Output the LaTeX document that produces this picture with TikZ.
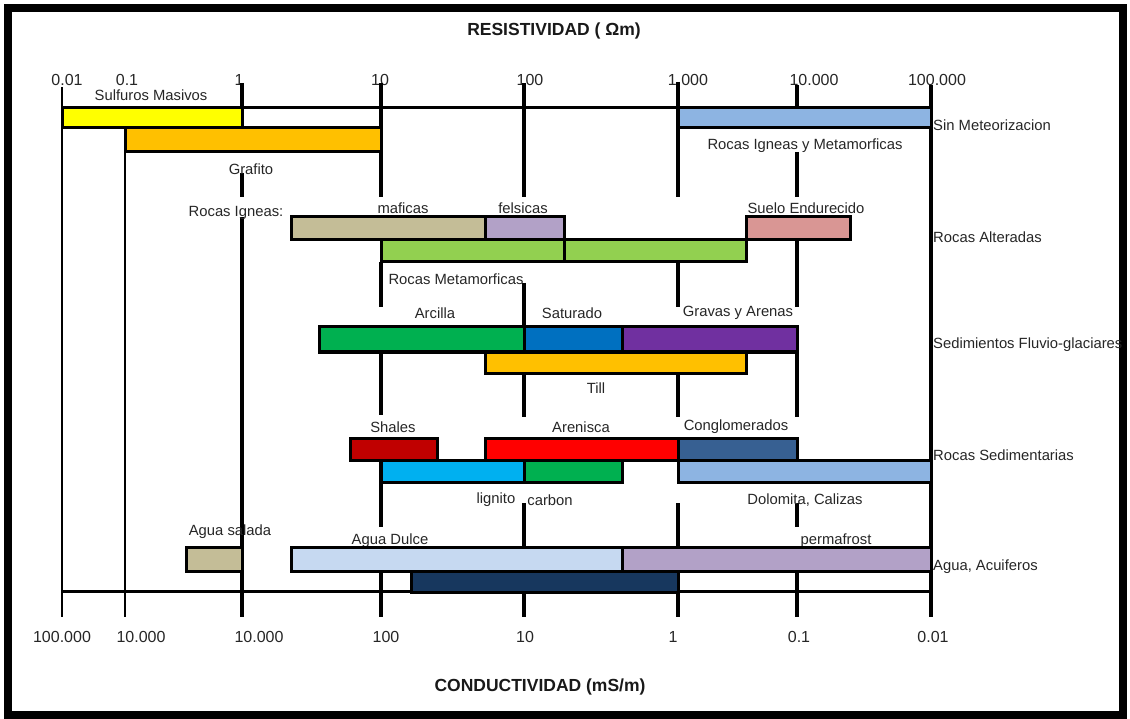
\documentclass[tikz,border=0pt]{standalone}
\usepackage{fontspec}
\setmainfont{Liberation Sans}
\usetikzlibrary{positioning}
\definecolor{yellowbar}{HTML}{FFFF00}
\definecolor{steelbar}{HTML}{8DB4E2}
\definecolor{orangebar}{HTML}{FFC000}
\definecolor{beigebar}{HTML}{C4BD97}
\definecolor{lilacbar}{HTML}{B2A1C7}
\definecolor{pinkbar}{HTML}{D99694}
\definecolor{limebar}{HTML}{92D050}
\definecolor{greenbar}{HTML}{00B050}
\definecolor{bluebar}{HTML}{0070C0}
\definecolor{purplebar}{HTML}{7030A0}
\definecolor{darkredbar}{HTML}{C00000}
\definecolor{redbar}{HTML}{FF0000}
\definecolor{slatebar}{HTML}{376092}
\definecolor{cyanbar}{HTML}{00B0F0}
\definecolor{palebar}{HTML}{C6D9F1}
\definecolor{navybar}{HTML}{17375E}
\tikzset{
barbox/.style={draw=black, line width=3pt},
gridline/.style={draw=black, line width=4pt},
thinline/.style={draw=black, line width=2.5pt},
axisline/.style={draw=black, line width=3pt},
lbl/.style={inner sep=0pt, text=black!85, font=\fontsize{14.8}{16}\selectfont},
rowlbl/.style={lbl, anchor=west},
ticklbl/.style={inner sep=0pt, text=black!85, font=\fontsize{16}{18}\selectfont},
titlelbl/.style={inner sep=0pt, text=black!90, font=\fontsize{17.5}{20}\selectfont\bfseries}
}
\begin{document}
\begin{tikzpicture}[x=1pt, y=-1pt]
\useasboundingbox (0,0) rectangle (1130,719);
\draw[line width=8pt] (8,8) rectangle (1123,715);

%Titles
\node[titlelbl] (resis) at(554,31) {RESISTIVIDAD ( Ωm)};
\node[titlelbl] (conduc) at(540,687) {CONDUCTIVIDAD (mS/m)};

%Resistivity ticks
\node[ticklbl] (r001) at(67,80) {0.01};
\node[ticklbl] (r01) at(127,80) {0.1};
\node[ticklbl] (r1) at(239,80) {1};
\node[ticklbl] (r10) at(380,80) {10};
\node[ticklbl] (r100) at(530,80) {100};
\node[ticklbl] (r1000) at(688,80) {1.000};
\node[ticklbl] (r10000) at(814,80) {10.000};
\node[ticklbl] (r100000) at(937,80) {100.000};

%Conductivity ticks
\node[ticklbl] (c100000) at(62,637) {100.000};
\node[ticklbl] (c10000) at(141,637) {10.000};
\node[ticklbl] (c1000) at(259,637) {10.000};
\node[ticklbl] (c100) at(386,637) {100};
\node[ticklbl] (c10) at(525,637) {10};
\node[ticklbl] (c1) at(673,637) {1};
\node[ticklbl] (c01) at(799,637) {0.1};
\node[ticklbl] (c001) at(933,637) {0.01};

%Grid lines
\draw[thinline] (62,87) -- (62,617);
\draw[thinline] (125,128) -- (125,617);
\draw[gridline] (242,83) -- (242,108);
\draw[gridline] (242,173) -- (242,197);
\draw[gridline] (242,217) -- (242,617);
\draw[gridline] (381,83) -- (381,197);
\draw[gridline] (381,262) -- (381,307);
\draw[gridline] (381,352) -- (381,415);
\draw[gridline] (381,460) -- (381,527);
\draw[gridline] (381,571) -- (381,617);
\draw[gridline] (524,83) -- (524,197);
\draw[gridline] (524,283) -- (524,327);
\draw[gridline] (524,352) -- (524,417);
\draw[gridline] (524,503) -- (524,547);
\draw[gridline] (524,592) -- (524,617);
\draw[gridline] (678,82) -- (678,197);
\draw[gridline] (678,263) -- (678,307);
\draw[gridline] (678,373) -- (678,417);
\draw[gridline] (678,503) -- (678,547);
\draw[gridline] (678,592) -- (678,617);
\draw[gridline] (797,85) -- (797,108);
\draw[gridline] (797,152) -- (797,197);
\draw[gridline] (797,240) -- (797,307);
\draw[gridline] (797,352) -- (797,417);
\draw[gridline] (797,503) -- (797,527);
\draw[gridline] (797,571) -- (797,617);
\draw[gridline] (931,85) -- (931,617);
\draw[axisline] (62,108) -- (931,108);
\draw[axisline] (62,591) -- (931,591);

%Sin Meteorizacion
\draw[barbox, fill=yellowbar] (62,108) rectangle (242,128);
\draw[barbox, fill=steelbar] (678,108) rectangle (931,128);
\draw[barbox, fill=orangebar] (125,128) rectangle (381,152);

%Rocas Alteradas
\draw[barbox, fill=beigebar] (291,217) rectangle (485,240);
\draw[barbox, fill=lilacbar] (485,217) rectangle (564,240);
\draw[barbox, fill=pinkbar] (746,217) rectangle (850,240);
\draw[barbox, fill=limebar] (381,240) rectangle (564,262);
\draw[barbox, fill=limebar] (564,240) rectangle (746,262);

%Sedimientos Fluvio-glaciares
\draw[barbox, fill=greenbar] (319,327) rectangle (524,352);
\draw[barbox, fill=bluebar] (524,327) rectangle (622,352);
\draw[barbox, fill=purplebar] (622,327) rectangle (797,352);
\draw[barbox, fill=orangebar] (485,352) rectangle (746,373);

%Rocas Sedimentarias
\draw[barbox, fill=darkredbar] (350,438) rectangle (437,460);
\draw[barbox, fill=redbar] (485,438) rectangle (678,460);
\draw[barbox, fill=slatebar] (678,438) rectangle (797,460);
\draw[barbox, fill=cyanbar] (381,460) rectangle (524,482);
\draw[barbox, fill=greenbar] (524,460) rectangle (622,482);
\draw[barbox, fill=steelbar] (678,460) rectangle (931,482);

%Agua, Acuiferos
\node[lbl] (dulce) at(390,541) {Agua Dulce};
\node[lbl] (permafrost) at(836,541) {permafrost};
\draw[barbox, fill=beigebar] (186,547) rectangle (242,571);
\draw[barbox, fill=palebar] (291,547) rectangle (622,571);
\draw[barbox, fill=lilacbar] (622,547) rectangle (931,571);
\draw[barbox, fill=navybar] (411,571) rectangle (678,592);

%Bar labels
\node[lbl] (sulfuros) at(151,95) {Sulfuros Masivos};
\node[lbl] (grafito) at(251,169) {Grafito};
\node[lbl] (igneasmeta) at(805,146) {Rocas Igneas y Metamorficas};
\node[lbl] (igneas) at(236,213) {Rocas Igneas:};
\node[lbl] (maficas) at(403,208) {maficas};
\node[lbl] (felsicas) at(523,208) {felsicas};
\node[lbl] (suelo) at(806,208) {Suelo Endurecido};
\node[lbl] (metamorf) at(456,279) {Rocas Metamorficas};
\node[lbl] (arcilla) at(435,313) {Arcilla};
\node[lbl] (saturado) at(572,313) {Saturado};
\node[lbl] (gravas) at(738,313) {Gravas y Arenas};
\node[lbl] (till) at(596,388) {Till};
\node[lbl] (shales) at(393,427) {Shales};
\node[lbl] (arenisca) at(581,427) {Arenisca};
\node[lbl] (conglom) at(736,427) {Conglomerados};
\node[lbl] (lignito) at(496,500) {lignito};
\node[lbl] (carbon) at(550,500) {carbon};
\node[lbl] (dolomita) at(805,500) {Dolomita, Calizas};
\node[lbl] (salada) at(230,532) {Agua salada};

%Row labels
\node[rowlbl] (sinmet) at(933,125) {Sin Meteorizacion};
\node[rowlbl] (alteradas) at(933,237) {Rocas Alteradas};
\node[rowlbl] (fluvio) at(933,345) {Sedimientos Fluvio-glaciares};
\node[rowlbl] (sediment) at(933,455) {Rocas Sedimentarias};
\node[rowlbl] (acuiferos) at(933,567) {Agua, Acuiferos};
\end{tikzpicture}
\end{document}
